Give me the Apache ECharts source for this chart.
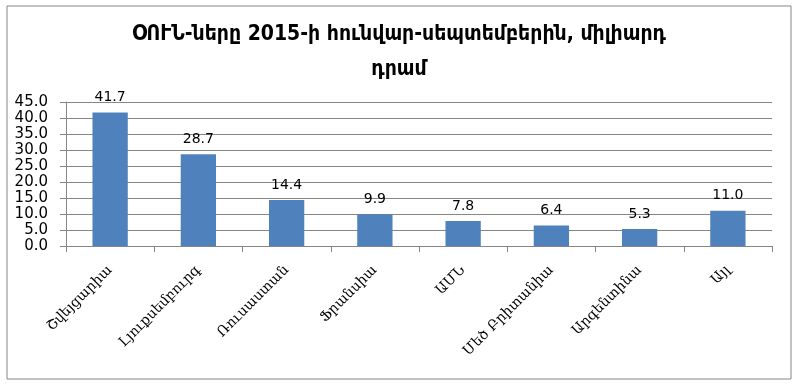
<!DOCTYPE html>
<html>
<head>
<meta charset="utf-8">
<script src="https://cdn.jsdelivr.net/npm/echarts@6/dist/echarts.min.js"></script>
<style>html,body{margin:0;padding:0;background:#fff;}#c{width:798px;height:386px;}</style>
</head>
<body>
<div id="c"></div>
<script>
const titleText = "ՕՈՒՆ-ները 2015-ի հունվար-սեպտեմբերին, միլիարդ\nդրամ";
const categories = ["Շվեյցարիա", "Լյուքսեմբուրգ", "Ռուսաստան", "Ֆրանսիա", "ԱՄՆ", "Մեծ Բրիտանիա", "Արգենտինա", "Այլ"];
const values = [41.7, 28.7, 14.4, 9.9, 7.8, 6.4, 5.3, 11.0];
const yMin = 0, yMax = 45, yStep = 5;

const chart = echarts.init(document.getElementById('c'), null, {renderer: 'canvas'});
chart.setOption({
  animation: false,
  backgroundColor: '#fff',
  graphic: [{
    type: 'rect', shape: {x: 7, y: 6, width: 784, height: 373},
    style: {fill: 'none', stroke: '#868686', lineWidth: 1}, silent: true, z: -1
  }],
  title: {
    text: titleText, left: 'center', top: 12,
    textStyle: {fontFamily: '"DejaVu Sans Condensed", "DejaVu Sans"', fontWeight: 'bold', fontSize: 21, lineHeight: 35, color: '#000'}
  },
  grid: {left: 66, right: 26, top: 102, bottom: 140, containLabel: false},
  xAxis: {
    type: 'category', data: categories,
    axisLine: {lineStyle: {color: '#868686'}},
    axisTick: {show: true, length: 6, lineStyle: {color: '#868686'}},
    axisLabel: {rotate: 45, margin: 22, interval: 0, fontFamily: '"DejaVu Serif"', fontSize: 14, color: '#000'}
  },
  yAxis: {
    type: 'value', min: yMin, max: yMax, interval: yStep,
    axisLine: {show: true, lineStyle: {color: '#868686'}},
    axisTick: {show: true, length: 6, lineStyle: {color: '#868686'}},
    splitLine: {lineStyle: {color: '#868686'}},
    axisLabel: {margin: 18, fontFamily: '"DejaVu Sans"', fontSize: 15, color: '#000', formatter: v => v.toFixed(1)}
  },
  series: [{
    type: 'bar', data: values, barWidth: '40%',
    itemStyle: {color: '#4F81BD'},
    label: {show: true, position: 'top', distance: 8, fontFamily: '"DejaVu Sans"', fontSize: 14, color: '#000', formatter: p => p.value.toFixed(1)}
  }]
});
</script>
</body>
</html>
